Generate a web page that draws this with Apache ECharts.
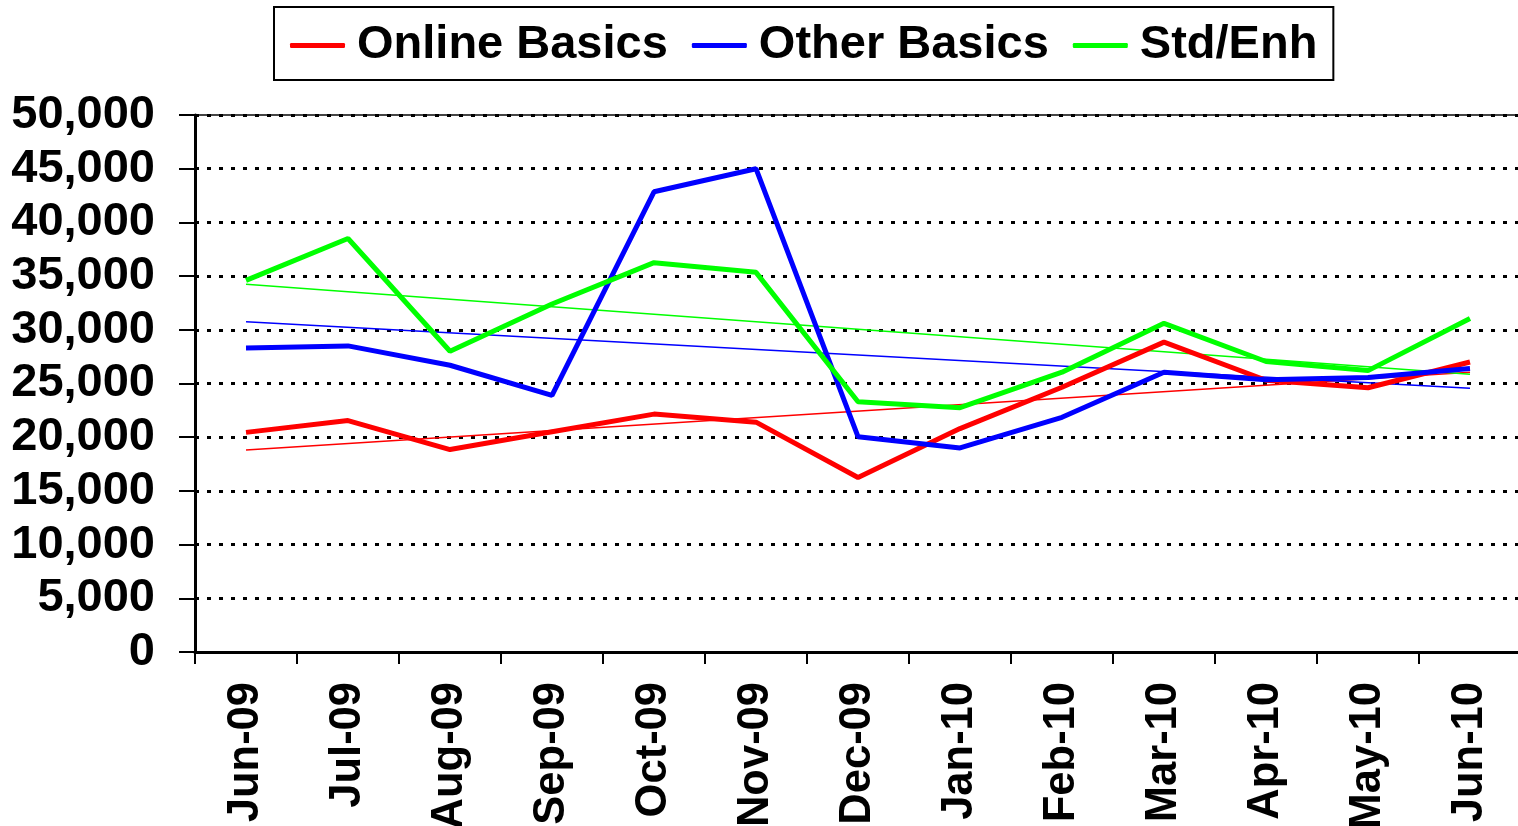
<!DOCTYPE html>
<html>
<head>
<meta charset="utf-8">
<script src="https://cdn.jsdelivr.net/npm/echarts@6/dist/echarts.min.js"></script>
<style>
  html, body { margin: 0; padding: 0; background: #fff; }
  #chart { width: 1518px; height: 826px; }
</style>
</head>
<body>
<div id="chart"></div>
<script>
// 月份
var months = ["Jun-09", "Jul-09", "Aug-09", "Sep-09", "Oct-09", "Nov-09", "Dec-09",
  "Jan-10", "Feb-10", "Mar-10", "Apr-10", "May-10", "Jun-10"];

// 三条主线
var onlineBasics = [20450, 21550, 18850, 20500, 22150, 21400, 16250, 20800, 24650, 28850, 25300, 24600, 27000];
var otherBasics = [28300, 28500, 26700, 23900, 42850, 45000, 20050, 19000, 21850, 26050, 25350, 25550, 26400];
var stdEnh = [34600, 38500, 28000, 32400, 36250, 35350, 23300, 22750, 26050, 30600, 27050, 26200, 31050];

// 趋势线 (首尾两点，读自图)
var onlineTrend = [18800, 26050];
var otherTrend = [30750, 24550];
var stdTrend = [34250, 25850];

var names = ["Online Basics", "Other Basics", "Std/Enh"];
var colors = ["#ff0000", "#0000ff", "#00ff00"];

var yTicks = { min: 0, max: 50000, interval: 5000 };

function trendData(pair) {
  var arr = months.map(function () { return null; });
  arr[0] = pair[0];
  arr[arr.length - 1] = pair[1];
  return arr;
}

var myChart = echarts.init(document.getElementById("chart"));

var font = "'Liberation Sans', Arial, sans-serif";

var option = {
  animation: false,
  textStyle: { fontFamily: font },
  legend: {
    left: 274,
    top: 7,
    padding: [15, 16, 11, 16],
    itemGap: 24,
    itemWidth: 55,
    itemHeight: 5,
    borderColor: "#000",
    borderWidth: 2,
    icon: "roundRect",
    data: names,
    textStyle: {
      fontFamily: font,
      fontWeight: "bold",
      fontSize: 47,
      lineHeight: 47,
      color: "#000",
      padding: [0, 0, 0, 7],
    },
  },
  grid: {
    left: 195,
    top: 115,
    width: 1326,
    height: 537,
    outerBoundsMode: "none",
    containLabel: false,
    show: true,
    borderColor: "#444",
    borderWidth: 2,
  },
  xAxis: {
    type: "category",
    data: months,
    boundaryGap: true,
    axisLine: { lineStyle: { color: "#000", width: 3 } },
    axisTick: { show: true, inside: false, length: 12, lineStyle: { color: "#000", width: 2 } },
    axisLabel: {
      rotate: 90,
      margin: 30,
      fontFamily: font,
      fontWeight: "bold",
      fontSize: 43.5,
      color: "#000",
      interval: 0,
    },
    splitLine: { show: false },
  },
  yAxis: {
    type: "value",
    min: yTicks.min,
    max: yTicks.max,
    interval: yTicks.interval,
    axisLine: { show: true, lineStyle: { color: "#000", width: 3 } },
    axisTick: { show: true, inside: false, length: 16, lineStyle: { color: "#000", width: 2 } },
    axisLabel: {
      margin: 40,
      fontFamily: font,
      fontWeight: "bold",
      fontSize: 47,
      color: "#000",
      formatter: function (v) { return v.toLocaleString("en-US"); },
    },
    splitLine: {
      show: true,
      lineStyle: { color: "#000", width: 3, type: [4, 8] },
    },
  },
  series: [
    {
      name: names[0], type: "line", data: onlineBasics, symbol: "none",
      lineStyle: { color: colors[0], width: 5 }, itemStyle: { color: colors[0] }, z: 5,
    },
    {
      name: names[1], type: "line", data: otherBasics, symbol: "none",
      lineStyle: { color: colors[1], width: 5 }, itemStyle: { color: colors[1] }, z: 5,
    },
    {
      name: names[2], type: "line", data: stdEnh, symbol: "none",
      lineStyle: { color: colors[2], width: 5 }, itemStyle: { color: colors[2] }, z: 5,
    },
    {
      name: "Online trend", type: "line", data: trendData(onlineTrend), connectNulls: true, symbol: "none",
      lineStyle: { color: colors[0], width: 1.5 }, z: 4,
    },
    {
      name: "Other trend", type: "line", data: trendData(otherTrend), connectNulls: true, symbol: "none",
      lineStyle: { color: colors[1], width: 1.5 }, z: 4,
    },
    {
      name: "Std trend", type: "line", data: trendData(stdTrend), connectNulls: true, symbol: "none",
      lineStyle: { color: colors[2], width: 1.5 }, z: 4,
    },
  ],
};

myChart.setOption(option);
</script>
</body>
</html>
